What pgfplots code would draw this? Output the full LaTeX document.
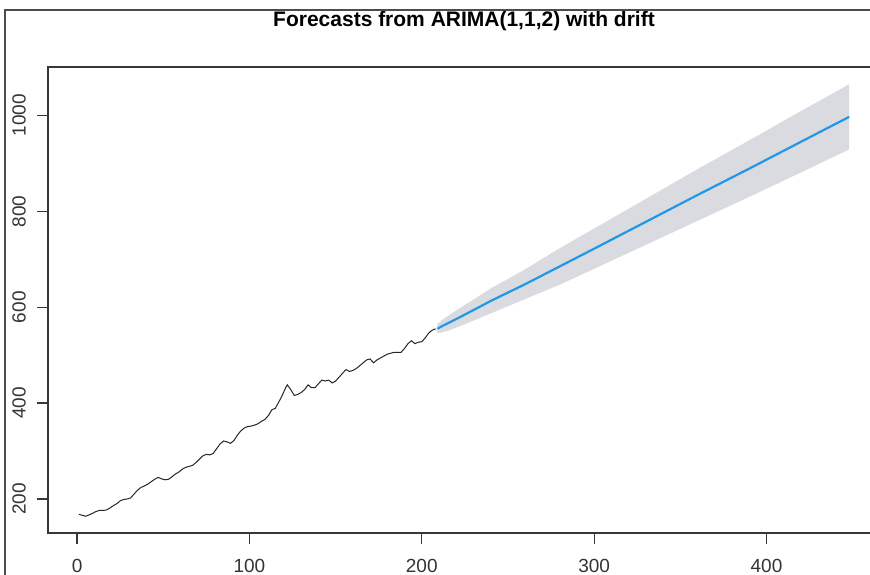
\documentclass[border=0pt]{standalone}
\usepackage{pgfplots}
\pgfplotsset{compat=1.18}
\usepgfplotslibrary{fillbetween}
\usepackage{fontspec}
\setmainfont{Liberation Sans}
\definecolor{rblue}{HTML}{2297E6}
\definecolor{bandgray}{RGB}{218,218,225}
\definecolor{axgray}{RGB}{55,55,55}

\pgfplotstableread{
t v
1 168
3 166
5 164
7 167
9 170
11 174
13 176
15 176
17 177
19 181
21 186
23 190
25 196
27 199
29 200
31 202
33 210
35 218
37 224
39 227
41 231
43 236
45 241
47 245
49 242
51 240
53 241
55 246
57 252
59 256
61 262
63 266
65 268
67 270
69 276
71 283
73 290
75 293
77 292
79 295
81 305
83 315
85 321
87 319
89 316
91 322
93 333
95 342
97 348
99 351
101 352
103 354
105 357
107 362
109 366
111 374
113 386
115 389
117 402
119 416
121 432
122 438
124 428
126 416
128 418
130 422
132 428
134 438
136 432
138 432
140 440
142 448
144 446
146 448
148 442
150 446
152 454
154 462
156 470
158 466
160 468
162 472
164 478
166 484
168 490
170 492
172 484
174 490
176 494
178 498
180 502
182 504
184 506
186 506
188 506
190 514
192 524
194 530
196 524
198 527
200 528
202 536
204 546
206 552
208 555
}\hist

\pgfplotstableread{
t m lo hi
209 555 545 565
212 561 548 574
216 568 552 584
222 579 560 598
230 594 572 616
240 613 587 639
260 648 617 679
280 685 647 723
300 722 680 764
330 778 730 826
360 834 780 888
390 889 830 948
420 945 881 1009
448 997 929 1065
}\fc

\begin{document}
\begin{tikzpicture}
\begin{axis}[name=ax, scale only axis, width=416pt, height=233pt,
  xmin=-16.88, xmax=465.88, ymin=129, ymax=1101,
  xtick={0,100,200,300,400}, ytick={200,400,600,800,1000},
  tick align=outside, xtick pos=bottom, ytick pos=left,
  major tick length=5.5pt,
  tick style={axgray, line width=0.6pt},
  axis line style={axgray, line width=0.75pt},
  /pgf/number format/assume math mode=true,
  /pgf/number format/1000 sep={},
  ticklabel style={font=\fontsize{9.5}{10}\selectfont, text=black!80},
  yticklabel style={rotate=90, anchor=south, yshift=2pt},
  xticklabel style={anchor=north, yshift=-4pt},
  title={Forecasts from ARIMA(1,1,2) with drift},
  title style={font=\bfseries\fontsize{10.5}{12}\selectfont, at={(0.5,1)}, anchor=center, yshift=17pt},
]
\addplot[name path=up, draw=none, forget plot] table[x=t, y=hi] {\fc};
\addplot[name path=dn, draw=none, forget plot] table[x=t, y=lo] {\fc};
\addplot[fill=bandgray, draw=none] fill between[of=up and dn];
\addplot[black!85, line width=0.5pt] table[x=t, y=v] {\hist};
\addplot[rblue, line width=1.1pt] table[x=t, y=m] {\fc};
\end{axis}
\draw[black!70, line width=0.6pt] ([xshift=-21.5pt, yshift=-30pt]ax.south west) -- ([xshift=-21.5pt, yshift=28.5pt]ax.north west) -- ([xshift=10pt, yshift=28.5pt]ax.north east);
\pgfresetboundingbox
\path[use as bounding box] ([xshift=-24pt,yshift=-20.5pt]ax.south west) rectangle ([xshift=-5pt,yshift=33.5pt]ax.north east);
\end{tikzpicture}
\end{document}
